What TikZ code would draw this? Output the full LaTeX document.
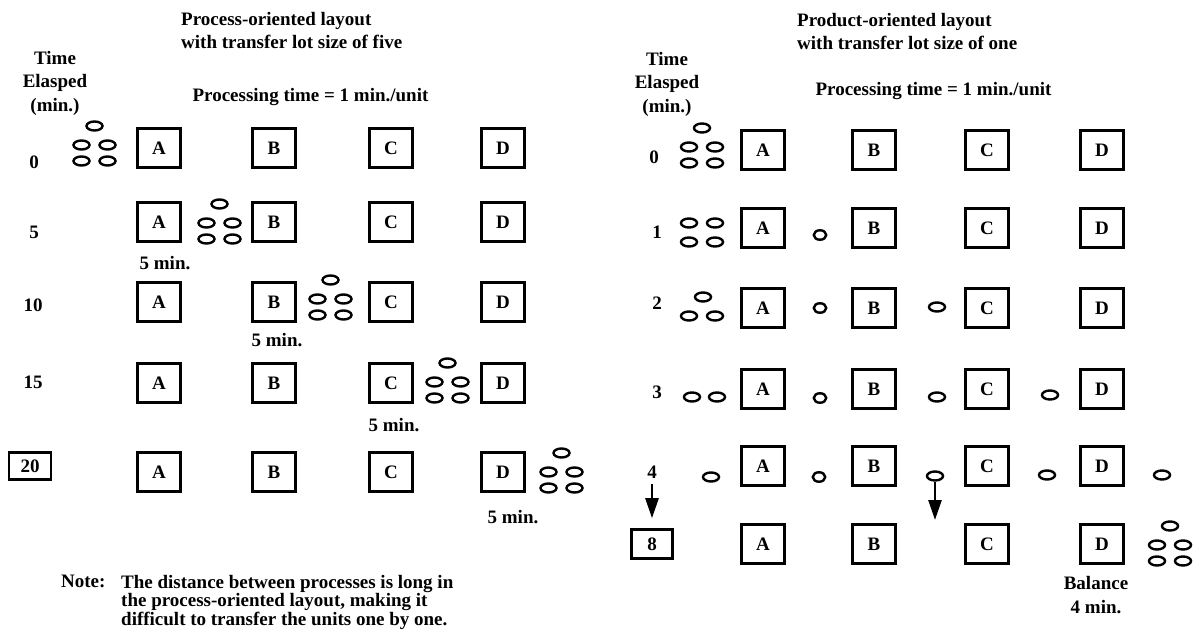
\documentclass[tikz,border=0pt]{standalone}
\usepackage{fontspec}
\setmainfont{Liberation Serif}
\usetikzlibrary{arrows.meta,shapes.geometric}
\tikzset{
  procbox/.style={rectangle, draw=black, line width=2.6pt, minimum width=43pt,
                  minimum height=39pt, inner sep=0pt},
  timebox/.style={rectangle, draw=black, line width=2.6pt, inner sep=0pt},
  unit/.style={ellipse, draw=black, line width=2.4pt, minimum width=16pt,
               minimum height=9pt, inner sep=0pt},
  smallunit/.style={unit, minimum width=12.5pt, minimum height=9.5pt},
  lbl/.style={inner sep=0pt},
  arrow/.style={-{Triangle[length=20pt,width=13pt]}, line width=2.6pt},
}
% one transfer lot of five units, named #1-1 ... #1-5
\newcommand{\lotfive}[3]{%
  \node[unit] (#1-1) at (#2,#3-19) {};
  \node[unit] (#1-2) at (#2-13,#3) {};
  \node[unit] (#1-3) at (#2+13,#3) {};
  \node[unit] (#1-4) at (#2-13,#3+16) {};
  \node[unit] (#1-5) at (#2+13,#3+16) {};
}

\begin{document}
\begin{tikzpicture}[
    x=1pt,
    y=-1pt,
    font=\fontsize{19}{21}\selectfont\bfseries,
    headtext/.style={lbl, font=\fontsize{19}{23.5}\selectfont\bfseries},
  ]
    \useasboundingbox (0,0) rectangle (1199,636);

    % Left panel: process-oriented layout, lot of five
    \node[headtext, anchor=west, align=left] (ltitle) at (181,30.5)
      {Process-oriented layout\\with transfer lot size of five};
    \node[headtext, align=center] (lhead) at (55,83) {Time\\Elasped\\(min.)};
    \node[lbl] (lrate) at (310.5,97) {Processing time = 1 min./unit};

    % time elapsed, left
    \node[lbl] (l0)  at (34,162) {0};
    \node[lbl] (l5)  at (34,232) {5};
    \node[lbl] (l10) at (33,305) {10};
    \node[lbl] (l15) at (33,382) {15};
    \node[timebox, minimum width=42pt, minimum height=27pt] (l20) at (30,466) {20};

    % processes A--D, one row per time step
    \foreach \s/\x in {A/159,B/274,C/391,D/503}{
      \node[procbox] (l0\s) at (\x,148) {\s};
      \node[procbox] (l1\s) at (\x,222) {\s};
      \node[procbox] (l2\s) at (\x,302) {\s};
      \node[procbox] (l3\s) at (\x,383) {\s};
      \node[procbox] (l4\s) at (\x,472) {\s};
    }

    % the lot moves on after each process
    \lotfive{llot0}{94.5}{145}
    \lotfive{llot1}{219.5}{223}
    \lotfive{llot2}{330.5}{299}
    \lotfive{llot3}{447.5}{382}
    \lotfive{llot4}{561.5}{472}

    \node[lbl] (lmin1) at (165,263) {5 min.};
    \node[lbl] (lmin2) at (277,340) {5 min.};
    \node[lbl] (lmin3) at (394,425) {5 min.};
    \node[lbl] (lmin4) at (513,517) {5 min.};

    \node[lbl, anchor=north west] (notehead) at (61,575) {Note:};
    \node[lbl, anchor=north west, align=left,
          font=\fontsize{19}{18.5}\selectfont\bfseries] (notebody) at (121,575)
      {The distance between processes is long in\\the process-oriented layout, making it\\difficult to transfer the units one by one.};

    % Right panel: product-oriented layout, lot of one
    \node[headtext, anchor=west, align=left] (rtitle) at (797,31.5)
      {Product-oriented layout\\with transfer lot size of one};
    \node[headtext, align=center] (rhead) at (667,84) {Time\\Elasped\\(min.)};
    \node[lbl] (rrate) at (933.5,91) {Processing time = 1 min./unit};

    % time elapsed, right
    \node[lbl] (r0) at (654,157) {0};
    \node[lbl] (r1) at (657,232) {1};
    \node[lbl] (r2) at (657,303) {2};
    \node[lbl] (r3) at (657,392) {3};
    \node[lbl] (r4) at (652,472) {4};
    \node[timebox, minimum width=41pt, minimum height=29pt] (r8) at (652,544) {8};

    \foreach \s/\x in {A/763,B/874,C/987,D/1102}{
      \node[procbox] (r0\s) at (\x,150) {\s};
      \node[procbox] (r1\s) at (\x,228) {\s};
      \node[procbox] (r2\s) at (\x,308) {\s};
      \node[procbox] (r3\s) at (\x,389) {\s};
      \node[procbox] (r4\s) at (\x,466) {\s};
      \node[procbox] (r5\s) at (\x,544) {\s};
    }

    % units passed on one by one
    \lotfive{rlot0}{702}{147}
    \node[unit] (r1u1) at (689,223) {};
    \node[unit] (r1u2) at (715,223) {};
    \node[unit] (r1u3) at (689,242) {};
    \node[unit] (r1u4) at (715,242) {};
    \node[smallunit] (r1u5) at (820,235) {};

    \node[unit] (r2u1) at (703,297) {};
    \node[unit] (r2u2) at (689,316) {};
    \node[unit] (r2u3) at (715,316) {};
    \node[smallunit] (r2u4) at (820,308) {};
    \node[unit] (r2u5) at (937,307) {};

    \node[unit] (r3u1) at (692,397) {};
    \node[unit] (r3u2) at (717,397) {};
    \node[smallunit] (r3u3) at (820,398) {};
    \node[unit] (r3u4) at (937,397) {};
    \node[unit] (r3u5) at (1050,395) {};

    \node[unit] (r4u1) at (711,477) {};
    \node[smallunit] (r4u2) at (819,477) {};
    \node[unit] (r4u3) at (935,476) {};
    \node[unit] (r4u4) at (1047,475) {};
    \node[unit] (r4u5) at (1162,475) {};

    \lotfive{rlot5}{1170}{545}
    \node[headtext, align=center, font=\fontsize{19}{24}\selectfont\bfseries] (rbal) at (1096,595) {Balance\\4 min.};

    % Arrows
    \coordinate (rdrop) at (935,520);
    \draw[arrow, shorten <=6pt, shorten >=10pt] (r4) -- (r8);
    \draw[arrow] (r4u3) -- (rdrop);

  \end{tikzpicture}
\end{document}
